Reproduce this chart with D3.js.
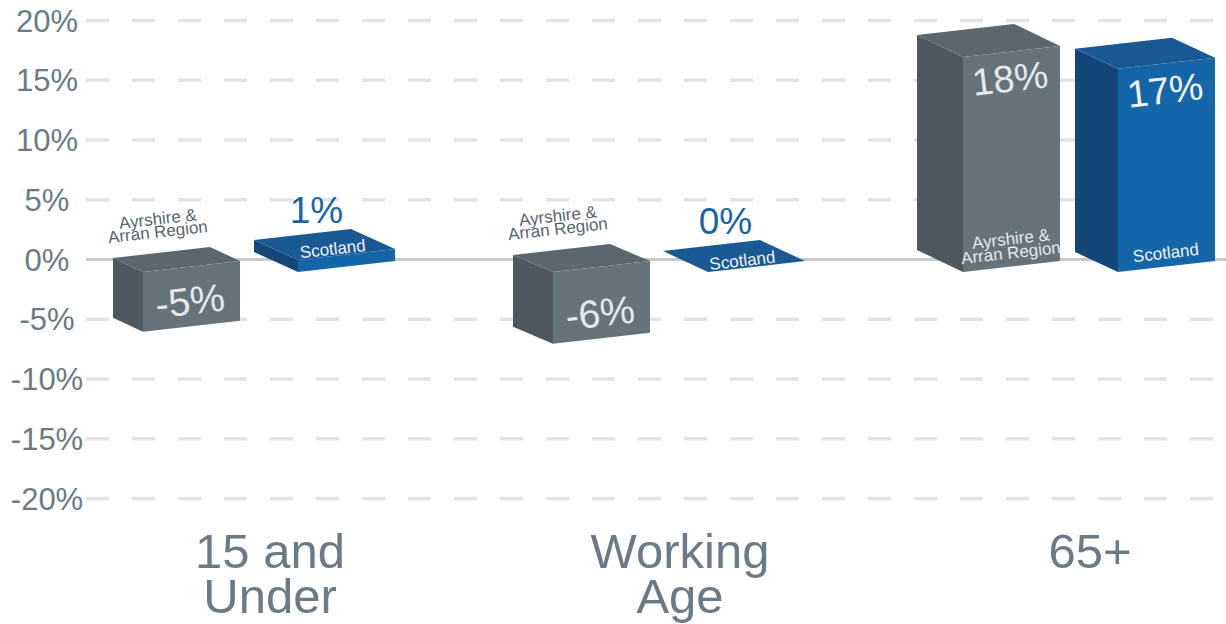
<!DOCTYPE html>
<html>
<head>
<meta charset="utf-8">
<script src="https://cdn.jsdelivr.net/npm/d3@7"></script>
<style>
  html, body { margin: 0; padding: 0; background: #ffffff; }
  svg { display: block; font-family: "Liberation Sans", Arial, Helvetica, sans-serif; }
</style>
</head>
<body>
<svg id="chart" width="1226" height="624"></svg>
<script>
// ---- data ----
const categories = ["15 and Under", "Working Age", "65+"];
const categoryLines = [["15 and", "Under"], ["Working", "Age"], ["65+"]];
const seriesNames = ["Ayrshire & Arran Region", "Scotland"];
const seriesLines = [["Ayrshire &", "Arran Region"], ["Scotland"]];
const ayrshireValues = [-5, -6, 18];
const scotlandValues = [1, 0, 17];
const yTickValues = [20, 15, 10, 5, 0, -5, -10, -15, -20];

// ---- layout ----
const W = 1226, H = 624;
const gridLeft = 86;
const faceWidth = 97;      // width of a box's front face
const faceSlant = 11;      // left edge sits this much lower than the right edge
// back-face offset of each box (per category, per series)
const depthX = [[-30, -44], [-40, -45], [-46, -43]];
const depthY = [[-14, -20], [-17, -21], [-22, -20]];

const palette = [
  { front: "#66737b", side: "#4e585e", top: "#5b676e", inner: "#e8e8e8", outer: "#58646c" },
  { front: "#1566a9", side: "#144678", top: "#195a95", inner: "#f2f2f2", outer: "#1a64a8" }
];

const seriesValues = [ayrshireValues, scotlandValues];

const svg = d3.select("#chart");

const y = d3.scaleLinear().domain([-20, 20]).range([498, 20]);
const x0 = d3.scaleBand().domain(categories).range([143, 143 + 410 * 3]);
const x1 = d3.scaleBand().domain(seriesNames).range([0, 310]);

// ---- gridlines and y tick labels ----
const yAxis = d3.axisLeft(y)
  .tickValues(yTickValues)
  .tickFormat(d => d + "%")
  .tickSize(-(W - gridLeft))
  .tickPadding(0);

const gy = svg.append("g")
  .attr("transform", `translate(${gridLeft},0)`)
  .call(yAxis);

gy.select(".domain").remove();
gy.selectAll(".tick line")
  .attr("stroke", d => d === 0 ? "#c9c9c9" : "#e3e3e3")
  .attr("stroke-width", d => d === 0 ? 3 : 3.5)
  .attr("stroke-dasharray", d => d === 0 ? null : "23 23");
gy.selectAll(".tick text")
  .attr("x", 47 - gridLeft)
  .attr("y", 11)
  .attr("dy", null)
  .attr("text-anchor", "middle")
  .attr("fill", "#6b7a84")
  .attr("font-size", 31)
  .attr("font-family", "'Liberation Sans', Arial, sans-serif");

// ---- category labels ----
const gx = svg.append("g");
categories.forEach((cat, i) => {
  const t = gx.append("text")
    .attr("x", x0(cat) + 127)
    .attr("y", 568)
    .attr("text-anchor", "middle")
    .attr("fill", "#6b7a84")
    .attr("font-size", 49);
  categoryLines[i].forEach((line, k) => {
    t.append("tspan")
      .attr("x", x0(cat) + 127)
      .attr("dy", k === 0 ? 0 : 45)
      .text(line);
  });
});

// ---- boxes ----
const angle = Math.atan2(-faceSlant, faceWidth) * 180 / Math.PI;
const pts = p => p.map(q => q.join(",")).join(" ");
const gBars = svg.append("g");
const gLabels = svg.append("g");

function lineText(g, lines, cx, lastBaseline, lineGap, size, fill) {
  const n = lines.length;
  lines.forEach((line, k) => {
    const by = lastBaseline - (n - 1 - k) * lineGap;
    g.append("text")
      .attr("x", cx).attr("y", by)
      .attr("text-anchor", "middle")
      .attr("font-size", size)
      .attr("fill", fill)
      .attr("transform", `rotate(${angle},${cx},${by})`)
      .text(line);
  });
}

categories.forEach((cat, i) => {
  seriesNames.forEach((name, j) => {
    const v = seriesValues[j][i];
    const col = palette[j];
    const dx = depthX[i][j], dy = depthY[i][j];
    const fl = x0(cat) + x1(name);
    const fr = fl + faceWidth;
    const yz = y(0) + 2, yv = y(v) + 2;
    const topR = Math.min(yz, yv), botR = Math.max(yz, yv);
    const topL = topR + faceSlant, botL = botR + faceSlant;

    const side = [[fl + dx, topL + dy], [fl, topL], [fl, botL], [fl + dx, botL + dy]];
    const top = [[fl + dx, topL + dy], [fr + dx, topR + dy], [fr, topR], [fl, topL]];
    const front = [[fl, topL], [fr, topR], [fr, botR], [fl, botL]];

    gBars.append("polygon").attr("points", pts(side)).attr("fill", col.side);
    gBars.append("polygon").attr("points", pts(top)).attr("fill", col.top);
    if (botR - topR > 0.5) {
      gBars.append("polygon").attr("points", pts(front)).attr("fill", col.front);
    }

    const cx = fl + faceWidth / 2;
    const frontTopMid = (topL + topR) / 2;
    const frontBotMid = (botL + botR) / 2;
    const backMidX = (fl + fr) / 2 + dx;
    const backMidY = (topL + topR) / 2 + dy;
    const valueText = v + "%";
    const h = botR - topR;

    if (v < 0) {
      // name above the box, value inside near the bottom of the front face
      lineText(gLabels, seriesLines[j], backMidX - 3, backMidY - 15, 13, 17, col.outer);
      gLabels.append("text")
        .attr("x", cx).attr("y", frontBotMid - 12)
        .attr("text-anchor", "middle")
        .attr("font-size", 39)
        .attr("fill", col.inner)
        .attr("transform", `rotate(${angle},${cx},${frontBotMid - 12})`)
        .text(valueText);
    } else if (h > 100) {
      // tall box: value near the top, name near the bottom of the front face
      gLabels.append("text")
        .attr("x", cx).attr("y", frontTopMid + 40)
        .attr("text-anchor", "middle")
        .attr("font-size", 38)
        .attr("fill", col.inner)
        .attr("transform", `rotate(${angle},${cx},${frontTopMid + 40})`)
        .text(valueText);
      lineText(gLabels, seriesLines[j], cx, frontBotMid - 8, 14, 17, col.inner);
    } else {
      // flat slab: value above, name on its top face
      gLabels.append("text")
        .attr("x", backMidX + 14).attr("y", backMidY - 12)
        .attr("text-anchor", "middle")
        .attr("font-size", 37)
        .attr("fill", col.outer)
        .text(valueText);
      lineText(gLabels, seriesLines[j], cx + 0.3 * dx, frontTopMid + 0.3 * dy + 6, 14, 17, col.inner);
    }
  });
});
</script>
</body>
</html>
